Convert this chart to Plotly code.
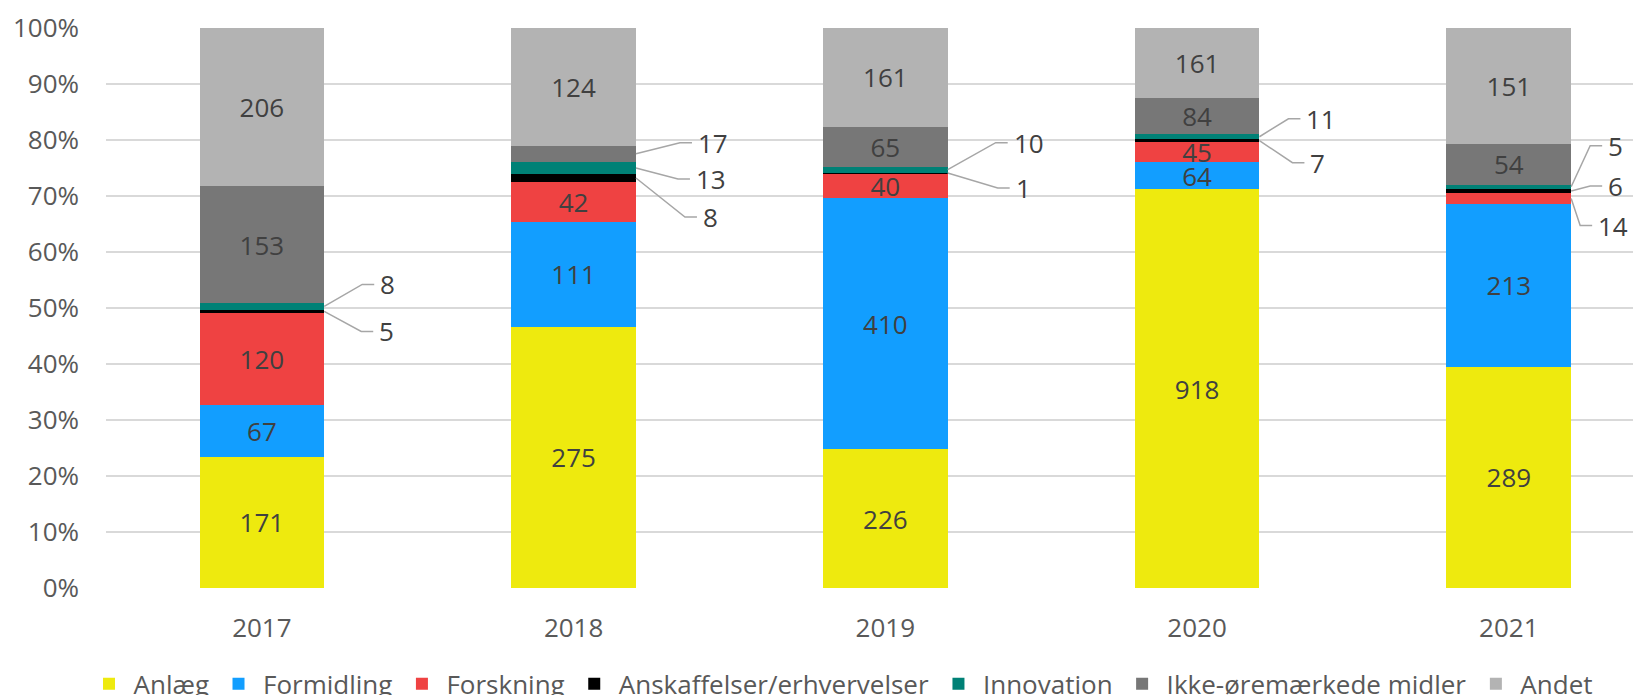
import plotly.graph_objects as go

years = ["2017", "2018", "2019", "2020", "2021"]
categories = ["Anlæg", "Formidling", "Forskning", "Anskaffelser/erhvervelser",
              "Innovation", "Ikke-øremærkede midler", "Andet"]
anlaeg = [171, 275, 226, 918, 289]
formidling = [67, 111, 410, 64, 213]
forskning = [120, 42, 40, 45, 14]
anskaffelser = [5, 8, 1, 7, 6]
innovation = [8, 13, 10, 11, 5]
ikke_oremaerkede = [153, 17, 65, 84, 54]
andet = [206, 124, 161, 161, 151]
series = [anlaeg, formidling, forskning, anskaffelser, innovation, ikke_oremaerkede, andet]

colors = ["#EEEA0E", "#129EFF", "#EF4242", "#000000", "#008176", "#777777", "#B3B3B3"]

# labels drawn outside with leader lines: (series index, year index, dx px, dy px up)
outside = [
    (4, 0, 38, 22), (3, 0, 37, -20),
    (5, 1, 44, 11), (4, 1, 42, -11), (3, 1, 49, -39),
    (4, 2, 48, 27), (3, 2, 50, -15),
    (4, 3, 29, 18), (3, 3, 33, -22),
    (4, 4, 19, 41), (3, 4, 19, 5), (2, 4, 9, -27),
]
outside_set = {(s, y) for s, y, _, _ in outside}

FONT = "Open Sans, sans-serif"
FS = 26
LABEL_COLOR = "#404040"
TICK_COLOR = "#595959"
BAR_W = 0.4
OFF = 8  # page body margin offset

xs = list(range(len(years)))
fig = go.Figure()
for si, (name, vals, col) in enumerate(zip(categories, series, colors)):
    txt = ["" if (si, yi) in outside_set else str(v) for yi, v in enumerate(vals)]
    fig.add_trace(go.Bar(
        x=xs, y=vals, name=name, marker=dict(color=col, line=dict(width=0)),
        text=txt, textposition="inside", insidetextanchor="middle", textangle=0,
        textfont=dict(family=FONT, size=FS, color=LABEL_COLOR),
        hoverinfo="skip",
    ))

totals = [sum(s[yi] for s in series) for yi in xs]
for si, yi, dx, dy in outside:
    below = sum(series[k][yi] for k in range(si))
    mid = (below + series[si][yi] / 2) / totals[yi] * 100
    xe = yi + BAR_W / 2
    fig.add_shape(type="path", xref="x", yref="y", xsizemode="pixel", ysizemode="pixel",
                  xanchor=xe, yanchor=mid,
                  path=f"M0,0 L{dx},{dy} L{dx + 12},{dy}",
                  line=dict(color="#A6A6A6", width=1.5), layer="above")
    fig.add_annotation(x=xe, y=mid, xref="x", yref="y", text=str(series[si][yi]),
                       showarrow=False, xanchor="left", yanchor="middle",
                       xshift=dx + 16, yshift=dy,
                       font=dict(family=FONT, size=FS, color=LABEL_COLOR))

fig.update_layout(
    width=1641 - OFF, height=695 - OFF,
    margin=dict(l=105.6 - OFF, r=0, t=28 - OFF, b=107, autoexpand=False),
    barmode="stack", barnorm="percent", bargap=0.6,
    plot_bgcolor="white", paper_bgcolor="white",
    uniformtext=dict(minsize=FS, mode="show"),
    showlegend=True,
    legend=dict(orientation="h", x=-0.014, xanchor="left", y=-0.129, yanchor="top",
                traceorder="normal", font=dict(family=FONT, size=FS, color=TICK_COLOR),
                itemwidth=39, bgcolor="rgba(0,0,0,0)"),
    font=dict(family=FONT, color=TICK_COLOR),
)
fig.update_xaxes(range=[-0.5, 4.424], tickvals=xs, ticktext=years, showgrid=False,
                 zeroline=False, showline=False, ticks="", ticklabelstandoff=22,
                 tickfont=dict(family=FONT, size=FS, color=TICK_COLOR))
fig.update_yaxes(range=[0, 100.001], tickvals=list(range(0, 101, 10)),
                 ticktext=[f"{v}%" for v in range(0, 101, 10)], showgrid=True,
                 gridcolor="#D9D9D9", gridwidth=1.5, zeroline=False, showline=False,
                 ticks="", ticklabelstandoff=26,
                 tickfont=dict(family=FONT, size=FS, color=TICK_COLOR))

fig.write_html("out.html")
